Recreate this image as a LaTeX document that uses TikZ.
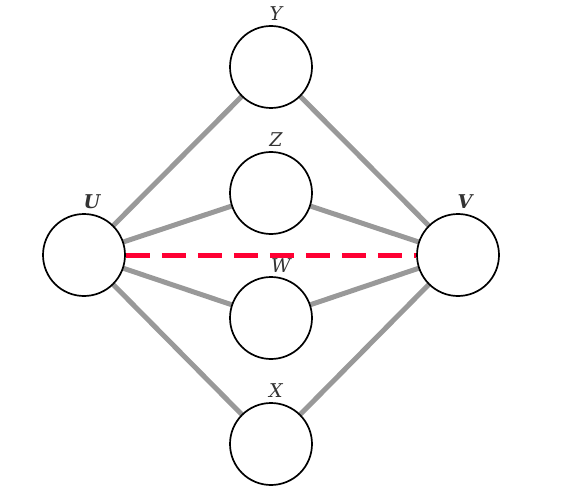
\documentclass[tikz,border=0pt]{standalone}
\usepackage{fontspec}
\setmainfont{DejaVu Serif}
\usepackage{xcolor}
\definecolor{edgegray}{HTML}{999999}
\definecolor{cutred}{HTML}{FF0033}
\definecolor{txt}{HTML}{333333}
\begin{document}
\begin{tikzpicture}[x=1pt,y=-1pt,
  vert/.style={circle,draw=black,line width=1.7pt,fill=white,minimum size=82pt,inner sep=0pt},
  edge/.style={draw=edgegray,line width=5pt},
  cut/.style={draw=cutred,line width=5pt,dash pattern=on 24pt off 12pt},
  lbl/.style={font=\fontsize{19}{22}\selectfont\itshape,text=txt},
  blbl/.style={font=\fontsize{19}{22}\selectfont\bfseries\itshape,text=txt}]
\useasboundingbox (0,0) rectangle (567,489);
\coordinate (cU) at (84,255);
\coordinate (cV) at (458,255);
\coordinate (cY) at (271,67);
\coordinate (cZ) at (271,193);
\coordinate (cW) at (271,318);
\coordinate (cX) at (271,444);
\foreach \a in {cY,cZ,cW,cX}{
  \draw[edge] (cU) -- (\a);
  \draw[edge] (cV) -- (\a);
}
\node[vert] (U) at (cU) {};
\node[vert] (V) at (cV) {};
\node[vert] (Y) at (cY) {};
\node[vert] (Z) at (cZ) {};
\node[vert] (W) at (cW) {};
\node[vert] (X) at (cX) {};
\draw[cut] (U.east) -- (V.west);
\node[lbl] (lY) at (276,14) {Y};
\node[lbl] (lZ) at (276,140) {Z};
\node[lbl] (lW) at (281,266) {W};
\node[lbl] (lX) at (276,391) {X};
\node[blbl] (lU) at (92,202) {U};
\node[blbl] (lV) at (465,202) {V};
\end{tikzpicture}
\end{document}
